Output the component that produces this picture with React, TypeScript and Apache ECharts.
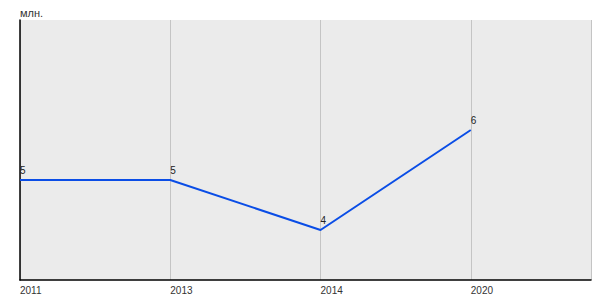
import React, { useEffect, useRef } from "react";
import * as echarts from "echarts";

const categories = ["2011", "2013", "2014", "2020"];
const values = [5, 5, 4, 6];
const unitLabel = "млн.";

export default function App() {
  const ref = useRef<HTMLDivElement>(null);
  useEffect(() => {
    if (!ref.current) return;
    const chart = echarts.init(ref.current, null, { renderer: "svg" });
    const font = "'Liberation Sans', Arial, sans-serif";
    chart.setOption({
      animation: false,
      grid: {
        left: 20,
        top: 20,
        right: 9,
        bottom: 20,
        show: true,
        backgroundColor: "#ebebeb",
        borderWidth: 0,
      },
      graphic: [
        {
          type: "text",
          left: 20,
          top: 7,
          style: { text: unitLabel, fontSize: 11, fill: "#333", fontFamily: font },
        },
      ],
      xAxis: {
        type: "value",
        min: 0,
        max: 3.8,
        interval: 1,
        axisLine: { show: true, lineStyle: { color: "#000", width: 1.5 } },
        axisTick: { show: false },
        splitLine: { show: true, lineStyle: { color: "#c4c4c4", width: 1 } },
        axisLabel: {
          fontSize: 10,
          color: "#333",
          fontFamily: font,
          align: "left",
          margin: 5,
          showMaxLabel: false,
          formatter: (v: number) => categories[Math.round(v)] ?? "",
        },
      },
      yAxis: {
        type: "value",
        min: 3,
        max: 8.2,
        axisLine: { show: true, lineStyle: { color: "#000", width: 1.5 } },
        axisTick: { show: false },
        axisLabel: { show: false },
        splitLine: { show: false },
      },
      series: [
        {
          type: "line",
          data: values.map((v, i) => [i, v]),
          symbol: "circle",
          symbolSize: 1,
          showSymbol: true,
          itemStyle: { color: "rgba(0,0,0,0)" },
          lineStyle: { color: "#0a4de6", width: 2 },
          label: {
            show: true,
            position: "top",
            align: "left",
            distance: 4,
            fontSize: 10,
            color: "#222",
            fontFamily: font,
          },
        },
      ],
    });
    return () => chart.dispose();
  }, []);
  return <div ref={ref} style={{ width: 600, height: 300, position: "absolute", left: 0, top: 0 }} />;
}
